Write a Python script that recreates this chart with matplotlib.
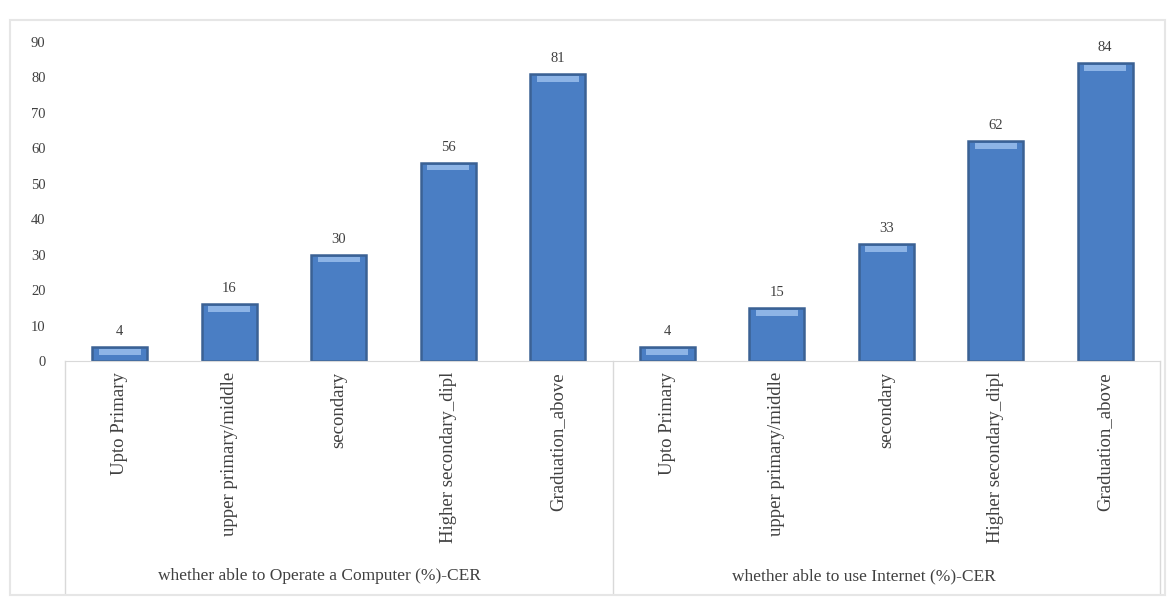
import matplotlib.pyplot as plt
import numpy as np

plt.rcParams['font.family'] = ['Liberation Serif', 'DejaVu Serif']

levels = ["Upto Primary", "upper primary/middle", "secondary",
          "Higher secondary_dipl", "Graduation_above"]
groups = ["whether able to Operate a Computer (%)-CER",
          "whether able to use Internet (%)-CER"]
computer = [4, 16, 30, 56, 81]
internet = [4, 15, 33, 62, 84]

vals = computer + internet
labels = levels + levels
x = np.arange(len(vals))

fig = plt.figure(figsize=(11.67, 5.97), dpi=100)
ax = fig.add_axes([65/1167, 1-361/597, (1160-65)/1167, (361-42)/597])

# bars: blue with darker outline and a light cap at the top
ax.bar(x, vals, width=0.5, color='#4A7EC4', edgecolor='#3B6194', linewidth=1.8, zorder=2)
ax.bar(x, [1.6]*len(vals), bottom=np.array(vals)-2.2, width=0.38,
       color='#8DB4E6', linewidth=0, zorder=3)

for xi, v in zip(x, vals):
    ax.text(xi, v + 2.5, str(v), ha='center', va='bottom', fontsize=10.5, color='#404040')

ax.set_xlim(-0.5, len(vals) - 0.5)
ax.set_ylim(0, 90)
ax.set_yticks(range(0, 91, 10))
ax.tick_params(axis='y', length=0, labelsize=10.5, labelcolor='#404040', pad=14)
ax.set_xticks(x)
ax.set_xticklabels(labels, rotation=90, va='top', fontsize=13.5, color='#404040')
ax.tick_params(axis='x', length=0, pad=8)
for s in ['top', 'right', 'left']:
    ax.spines[s].set_visible(False)
ax.spines['bottom'].set_color('#D9D9D9')

# group separators and group labels under the category labels
trans = ax.get_xaxis_transform()
for xs in [-0.5, 4.5, 9.5]:
    ax.plot([xs, xs], [0, -0.73], color='#D9D9D9', lw=1, transform=trans, clip_on=False)
ax.text(1.82, -0.675, groups[0], ha='center', va='center', fontsize=12.5,
        color='#404040', transform=trans)
ax.text(6.8, -0.675, groups[1], ha='center', va='center', fontsize=12.5,
        color='#404040', transform=trans)

# light chart border
fig.patches.append(plt.Rectangle((10/1167, 2/597), 1155/1167, 575/597, fill=False,
                                 edgecolor='#E6E6E6', lw=1.5, transform=fig.transFigure))

fig.savefig('out.png', dpi=100)
